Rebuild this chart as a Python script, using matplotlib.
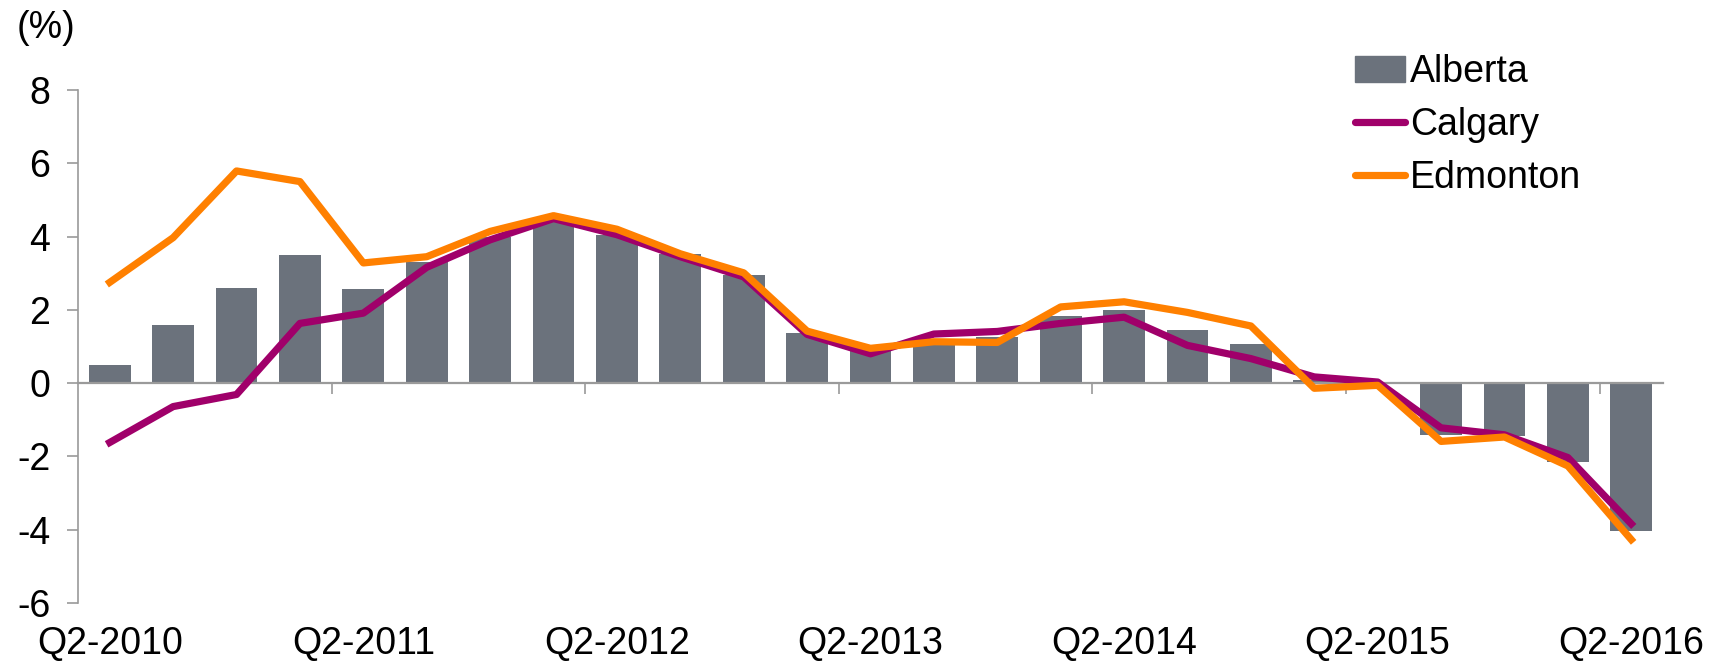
import matplotlib
matplotlib.use('Agg')
import matplotlib.pyplot as plt
import matplotlib.transforms as mtransforms
from matplotlib.patches import Patch
from matplotlib.lines import Line2D

# quarterly growth, Q2-2010 .. Q2-2016
quarters = ['Q2-2010', 'Q3-2010', 'Q4-2010', 'Q1-2011',
            'Q2-2011', 'Q3-2011', 'Q4-2011', 'Q1-2012',
            'Q2-2012', 'Q3-2012', 'Q4-2012', 'Q1-2013',
            'Q2-2013', 'Q3-2013', 'Q4-2013', 'Q1-2014',
            'Q2-2014', 'Q3-2014', 'Q4-2014', 'Q1-2015',
            'Q2-2015', 'Q3-2015', 'Q4-2015', 'Q1-2016',
            'Q2-2016']
alberta = [0.5, 1.6, 2.6, 3.5, 2.57, 3.3, 4.0, 4.4, 4.05, 3.53, 2.96, 1.38, 0.93,
           1.2, 1.26, 1.83, 2.0, 1.46, 1.07, 0.08, 0.04, -1.41, -1.45, -2.16, -4.03]
calgary = [-1.62, -0.64, -0.31, 1.63, 1.91, 3.16, 3.91, 4.49, 4.05, 3.45, 2.90, 1.33, 0.8,
           1.34, 1.41, 1.63, 1.8, 1.03, 0.67, 0.17, 0.03, -1.22, -1.41, -2.03, -3.84]
edmonton = [2.75, 3.97, 5.79, 5.50, 3.28, 3.45, 4.14, 4.57, 4.20, 3.53, 3.01, 1.42, 0.95,
            1.13, 1.11, 2.08, 2.22, 1.93, 1.56, -0.14, -0.06, -1.59, -1.47, -2.26, -4.27]

bar_color = '#6B727C'
cal_color = '#A0006A'
edm_color = '#FF8000'
axis_color = '#9A9A9A'

plt.rcParams['font.family'] = ['Liberation Sans', 'DejaVu Sans']
plt.rcParams['axes.unicode_minus'] = False

fig = plt.figure(figsize=(17.19, 6.62), dpi=100)
ax = fig.add_axes([0.0454, 0.0891, 0.922, 0.775])

x = list(range(len(quarters)))
ax.bar(x, alberta, width=0.66, color=bar_color, zorder=2)
ax.plot(x, calgary, color=cal_color, lw=5.2, zorder=3, solid_joinstyle='round')
ax.plot(x, edmonton, color=edm_color, lw=5.2, zorder=4, solid_joinstyle='round')

ax.set_xlim(-0.5, len(quarters) - 0.5)
ax.set_ylim(-6, 8)
ax.set_yticks(range(-6, 9, 2))
ax.tick_params(axis='y', labelsize=27, length=8, width=1.2, color=axis_color, pad=12)

for s in ['top', 'right']:
    ax.spines[s].set_visible(False)
ax.spines['left'].set_color(axis_color)
ax.spines['left'].set_linewidth(1.2)
ax.spines['bottom'].set_position(('data', 0))
ax.spines['bottom'].set_color(axis_color)
ax.spines['bottom'].set_linewidth(1.6)

# tick marks between groups of four quarters, labels at the bottom
ax.set_xticks([i - 0.5 for i in range(4, len(quarters), 4)])
ax.set_xticklabels([])
ax.tick_params(axis='x', length=8, width=1.2, color=axis_color, direction='out')

trans = mtransforms.blended_transform_factory(ax.transData, ax.transAxes)
for i in range(0, len(quarters), 4):
    ax.text(i, -0.045, quarters[i], transform=trans, ha='center', va='top', fontsize=27)

fig.text(0.027, 0.958, '(%)', ha='center', va='center', fontsize=27)

handles = [Patch(color=bar_color),
           Line2D([], [], color=cal_color, lw=5.2, solid_capstyle='round'),
           Line2D([], [], color=edm_color, lw=5.2, solid_capstyle='round')]
fig.legend(handles, ['Alberta', 'Calgary', 'Edmonton'], loc='upper left',
           bbox_to_anchor=(0.788, 0.918), frameon=False, fontsize=27,
           handlelength=1.35, handletextpad=0.12, labelspacing=0.45, borderpad=0,
           borderaxespad=0)

plt.savefig('out.png', dpi=100)
